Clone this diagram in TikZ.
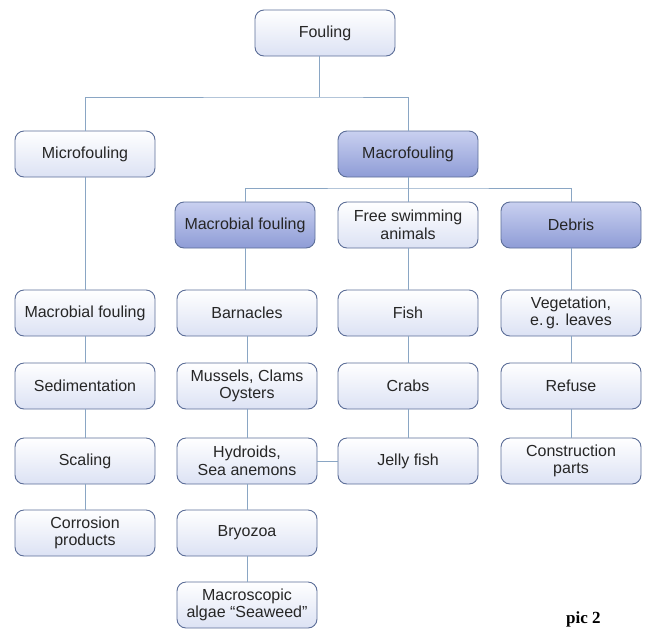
\documentclass[tikz,border=0pt]{standalone}
\usepackage{fontspec}
\setmainfont{Liberation Sans}
\newfontfamily\picfont{Liberation Serif}
\begin{document}
\begin{tikzpicture}[x=1pt,y=-1pt,
  box/.style={draw=boxedge, line width=0.9pt, rounded corners=9pt, minimum width=140pt, minimum height=46pt,
    top color=white, bottom color=lightfill, align=center, font=\fontsize{16}{17.5}\selectfont, text=black!85, inner sep=1pt},
  darkbox/.style={box, top color=darktop, bottom color=darkbot},
  conn/.style={draw=linecol, line width=0.8pt}]
\definecolor{boxedge}{HTML}{5C6E98}
\definecolor{lightfill}{HTML}{DCE2F4}
\definecolor{darktop}{HTML}{C9D0F0}
\definecolor{darkbot}{HTML}{8E9CD6}
\definecolor{linecol}{HTML}{8AA6C4}
\useasboundingbox (0,0) rectangle (651,630);
\clip (0,0) rectangle (651,630);
% nodes
\node[box] (fouling) at (325,33) {Fouling};
\node[box] (micro) at (85,154) {Microfouling};
\node[darkbox] (macro) at (408,154) {Macrofouling};
\node[darkbox] (mbf) at (245,225) {Macrobial fouling};
\node[box] (free) at (408,225) {Free swimming\\animals};
\node[darkbox] (debris) at (571,225) {Debris};
\node[box] (mbf2) at (85,313) {Macrobial fouling};
\node[box] (sed) at (85,386) {Sedimentation};
\node[box] (scal) at (85,461) {Scaling};
\node[box] (corr) at (85,533) {Corrosion\\products};
\node[box] (barn) at (247,313) {Barnacles};
\node[box] (muss) at (247,386) {Mussels, Clams\\Oysters};
\node[box] (hydr) at (247,461) {Hydroids,\\Sea anemons};
\node[box] (bryo) at (247,533) {Bryozoa};
\node[box] (alg) at (247,605) {Macroscopic\\algae ``Seaweed''};
\node[box] (fish) at (408,313) {Fish};
\node[box] (crab) at (408,386) {Crabs};
\node[box] (jelly) at (408,461) {Jelly fish};
\node[box] (veg) at (571,313) {Vegetation,\\e.\,g. leaves};
\node[box] (ref) at (571,386) {Refuse};
\node[box] (cons) at (571,461) {Construction\\parts};
\node[font=\picfont\bfseries\fontsize{17}{17}\selectfont, anchor=base west, inner sep=0pt] (pic) at (566,623) {pic 2};
% connectors
\coordinate (j1) at (319,97);
\draw[conn] (fouling.south -| j1) -- (j1);
\draw[conn] (micro.north) |- (j1) -| (macro.north);
\coordinate (j2) at (408,188);
\draw[conn] (macro.south) -- (j2);
\draw[conn] (mbf.north) |- (j2) -| (debris.north);
\draw[conn] (j2) -- (free.north);
\draw[conn] (micro) -- (mbf2);
\draw[conn] (mbf2) -- (sed);
\draw[conn] (sed) -- (scal);
\draw[conn] (scal) -- (corr);
\draw[conn] (mbf.south) -- (barn.north -| mbf.south);
\draw[conn] (barn) -- (muss);
\draw[conn] (muss) -- (hydr);
\draw[conn] (hydr) -- (bryo);
\draw[conn] (bryo) -- (alg);
\draw[conn] (free) -- (fish);
\draw[conn] (fish) -- (crab);
\draw[conn] (crab) -- (jelly);
\draw[conn] (hydr) -- (jelly);
\draw[conn] (debris) -- (veg);
\draw[conn] (veg) -- (ref);
\draw[conn] (ref) -- (cons);
\end{tikzpicture}
\end{document}
